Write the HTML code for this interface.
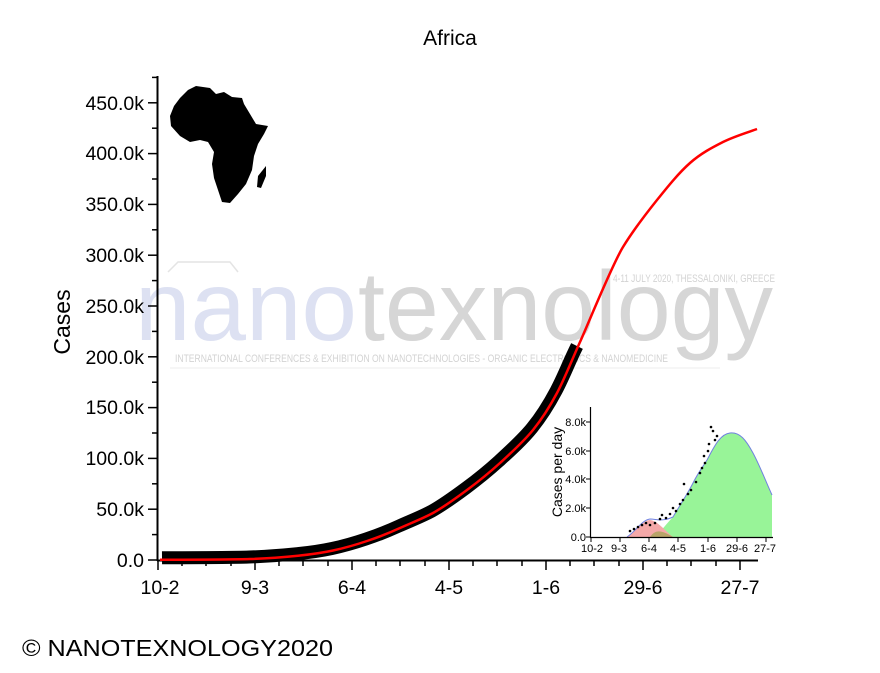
<!DOCTYPE html>
<html><head><meta charset="utf-8"><style>
body{margin:0;background:#fff;}
svg{display:block;font-family:"Liberation Sans",Arial,sans-serif;}
</style></head><body>
<svg width="880" height="673" viewBox="0 0 880 673" xmlns="http://www.w3.org/2000/svg">
<rect width="880" height="673" fill="#fff"/>
<text x="450" y="45" font-size="21" text-anchor="middle" fill="#000">Africa</text>
<text transform="translate(70,322) rotate(-90)" font-size="23" text-anchor="middle" fill="#000">Cases</text>
<text x="22" y="656" font-size="23" fill="#000" textLength="311" lengthAdjust="spacingAndGlyphs">© NANOTEXNOLOGY2020</text>

<g>
<text x="135" y="340" font-size="98" fill="#dde1f2" textLength="222" lengthAdjust="spacingAndGlyphs">nano</text>
<text x="358" y="340" font-size="98" fill="#d6d6d6" textLength="415" lengthAdjust="spacingAndGlyphs">texnology</text>
<text x="175" y="362" font-size="11" fill="#d3d3d3" textLength="493" lengthAdjust="spacingAndGlyphs">INTERNATIONAL CONFERENCES &amp; EXHIBITION ON NANOTECHNOLOGIES - ORGANIC ELECTRONICS &amp; NANOMEDICINE</text>
<text x="613" y="282" font-size="11" fill="#d3d3d3" textLength="162" lengthAdjust="spacingAndGlyphs">4-11 JULY 2020, THESSALONIKI, GREECE</text>
<path d="M168 272 L178 262 L230 262 L238 272" fill="none" stroke="#e4e4e4" stroke-width="1.5"/>
<line x1="170" y1="368" x2="720" y2="368" stroke="#eeeeee" stroke-width="1"/>
</g>

<g stroke="#000" stroke-width="2" fill="none">
<line x1="157.5" y1="76" x2="157.5" y2="561"/>
<line x1="157" y1="560.5" x2="758" y2="560.5"/>
</g>
<g stroke="#000" stroke-width="1.5">
<line x1="148" y1="560" x2="157" y2="560"/><line x1="148" y1="509.2" x2="157" y2="509.2"/>
<line x1="148" y1="458.4" x2="157" y2="458.4"/><line x1="148" y1="407.6" x2="157" y2="407.6"/>
<line x1="148" y1="356.8" x2="157" y2="356.8"/><line x1="148" y1="306" x2="157" y2="306"/>
<line x1="148" y1="255.2" x2="157" y2="255.2"/><line x1="148" y1="204.4" x2="157" y2="204.4"/>
<line x1="148" y1="153.6" x2="157" y2="153.6"/><line x1="148" y1="102.8" x2="157" y2="102.8"/>
<line x1="152" y1="534.6" x2="157" y2="534.6"/><line x1="152" y1="483.8" x2="157" y2="483.8"/>
<line x1="152" y1="433" x2="157" y2="433"/><line x1="152" y1="382.2" x2="157" y2="382.2"/>
<line x1="152" y1="331.4" x2="157" y2="331.4"/><line x1="152" y1="280.6" x2="157" y2="280.6"/>
<line x1="152" y1="229.8" x2="157" y2="229.8"/><line x1="152" y1="179" x2="157" y2="179"/>
<line x1="152" y1="128.2" x2="157" y2="128.2"/><line x1="152" y1="77.4" x2="157" y2="77.4"/>
<line x1="158" y1="561" x2="158" y2="570"/><line x1="255" y1="561" x2="255" y2="570"/>
<line x1="352" y1="561" x2="352" y2="570"/><line x1="449" y1="561" x2="449" y2="570"/>
<line x1="546" y1="561" x2="546" y2="570"/><line x1="643" y1="561" x2="643" y2="570"/>
<line x1="740" y1="561" x2="740" y2="570"/>
<line x1="182" y1="561" x2="182" y2="566"/><line x1="206" y1="561" x2="206" y2="566"/><line x1="231" y1="561" x2="231" y2="566"/>
<line x1="279" y1="561" x2="279" y2="566"/><line x1="303" y1="561" x2="303" y2="566"/><line x1="328" y1="561" x2="328" y2="566"/>
<line x1="376" y1="561" x2="376" y2="566"/><line x1="400" y1="561" x2="400" y2="566"/><line x1="425" y1="561" x2="425" y2="566"/>
<line x1="473" y1="561" x2="473" y2="566"/><line x1="497" y1="561" x2="497" y2="566"/><line x1="522" y1="561" x2="522" y2="566"/>
<line x1="570" y1="561" x2="570" y2="566"/><line x1="594" y1="561" x2="594" y2="566"/><line x1="619" y1="561" x2="619" y2="566"/>
<line x1="667" y1="561" x2="667" y2="566"/><line x1="691" y1="561" x2="691" y2="566"/><line x1="716" y1="561" x2="716" y2="566"/>
</g>
<g font-size="19.5" fill="#000" text-anchor="end">
<text x="144" y="567">0.0</text><text x="144" y="516">50.0k</text><text x="144" y="465">100.0k</text>
<text x="144" y="414">150.0k</text><text x="144" y="364">200.0k</text><text x="144" y="313">250.0k</text>
<text x="144" y="262">300.0k</text><text x="144" y="211">350.0k</text><text x="144" y="160">400.0k</text>
<text x="144" y="110">450.0k</text>
</g>
<g font-size="19.5" fill="#000" text-anchor="middle">
<text x="160" y="594">10-2</text><text x="255" y="594">9-3</text><text x="352" y="594">6-4</text>
<text x="449" y="594">4-5</text><text x="546" y="594">1-6</text><text x="643" y="594">29-6</text>
<text x="740" y="594">27-7</text>
</g>

<path d="M188 90 L196 86 L210 88 L216 94 L224 92 L232 97 L242 98 L244 104 L250 114 L256 124 L268 126 L264 134 L258 144 L254 156 L252 170 L246 184 L238 194 L230 203 L222 202 L218 190 L214 178 L212 164 L214 152 L208 142 L200 140 L190 142 L180 136 L171 126 L170 116 L174 106 L180 98 Z" fill="#000"/>
<path d="M266 166 L266 176 L261 188 L257 187 L258 176 Z" fill="#000"/>

<g transform="translate(-1,-2)">
<path d="M163 559.8 C175 559.7 226.7 559.7 250 559 C273.3 558.3 286.2 556.9 300 555.5 C313.8 554.1 321.8 552.9 333 550.5 C344.2 548.1 355.8 544.8 367 541 C378.2 537.3 389 533 400 528 C411 523 421.8 519 433 513 C444.2 506.7 455.8 498.3 467 490 C478.2 481.7 489 473 500 463 C511 453 523.5 441.7 533 430 C542.5 418.3 549.2 407.7 557 393 C564.8 378.3 569 366.3 578 348" fill="none" stroke="#000" stroke-width="13" stroke-linejoin="round"/>
</g>
<path d="M160 559.8 C175 559.7 226.7 559.7 250 559 C273.3 558.3 286.2 556.9 300 555.5 C313.8 554.1 321.8 552.9 333 550.5 C344.2 548.1 355.8 544.8 367 541 C378.2 537.3 389 533 400 528 C411 523 421.8 519 433 513 C444.2 506.7 455.8 498.3 467 490 C478.2 481.7 489 473 500 463 C511 453 523.5 441.7 533 430 C542.5 418.3 549.2 407.7 557 393 C564.8 378.3 571 362 580 342 C589 322 612 265 623 247 C634 229 645.8 214 657 200 C668.2 186 679 172.7 690 163 C701 153.3 711.8 147.7 723 142 C734.2 136.3 751.3 131.2 757 129" fill="none" stroke="#ff0000" stroke-width="2.5"/>

<g>
<path d="M655 537 C662 530 668 522 673 517 C680 505 688 493 693 483 C698 473 702 468 707 460 C714 447 720 434 730 433 C740 432 746 440 753 453 C760 466 766 482 772 495 L772 537 Z" fill="#98f498"/>
<path d="M627 537 C636 531 642 521 650 520 C658 521 665 531 673 537 Z" fill="#f4a8a8"/>
<path d="M650 537 C655 530 660 529 673 537 Z" fill="#b8a468"/>
<path d="M627 537 C636 531 642 520 650 519 C657 519 662 522 673 517 C680 505 688 493 693 483 C698 473 702 468 707 460 C714 447 720 434 730 433 C740 432 746 440 753 453 C760 466 766 482 772 495" fill="none" stroke="#7080e0" stroke-width="1"/>
<g fill="#000">
<circle cx="630" cy="531" r="1.3"/><circle cx="634" cy="529" r="1.3"/><circle cx="638" cy="527" r="1.3"/>
<circle cx="642" cy="525" r="1.3"/><circle cx="646" cy="523" r="1.3"/><circle cx="650" cy="525" r="1.3"/>
<circle cx="655" cy="523" r="1.3"/><circle cx="660" cy="519" r="1.3"/><circle cx="662" cy="515" r="1.3"/>
<circle cx="666" cy="518" r="1.3"/><circle cx="670" cy="514" r="1.3"/><circle cx="673" cy="508" r="1.3"/>
<circle cx="676" cy="511" r="1.3"/><circle cx="680" cy="504" r="1.3"/><circle cx="683" cy="500" r="1.3"/>
<circle cx="684" cy="484" r="1.3"/><circle cx="688" cy="494" r="1.3"/><circle cx="691" cy="490" r="1.3"/>
<circle cx="696" cy="482" r="1.3"/><circle cx="700" cy="473" r="1.3"/><circle cx="702" cy="468" r="1.3"/>
<circle cx="705" cy="463" r="1.3"/><circle cx="708" cy="451" r="1.3"/><circle cx="709" cy="444" r="1.3"/>
<circle cx="711" cy="427" r="1.3"/><circle cx="713" cy="431" r="1.3"/><circle cx="715" cy="440" r="1.3"/>
<circle cx="717" cy="436" r="1.3"/><circle cx="704" cy="456" r="1.3"/>
</g>
<g stroke="#000" stroke-width="1.2" fill="none">
<line x1="590.5" y1="407" x2="590.5" y2="538"/><line x1="590" y1="537.5" x2="773" y2="537.5"/>
</g>
<g stroke="#000" stroke-width="1">
<line x1="586" y1="422" x2="590" y2="422"/><line x1="586" y1="451" x2="590" y2="451"/>
<line x1="586" y1="479" x2="590" y2="479"/><line x1="586" y1="508" x2="590" y2="508"/>
<line x1="586" y1="537" x2="590" y2="537"/>
<line x1="591" y1="538" x2="591" y2="542"/><line x1="620" y1="538" x2="620" y2="542"/>
<line x1="649" y1="538" x2="649" y2="542"/><line x1="678" y1="538" x2="678" y2="542"/>
<line x1="708" y1="538" x2="708" y2="542"/><line x1="737" y1="538" x2="737" y2="542"/>
<line x1="766" y1="538" x2="766" y2="542"/>
</g>
<g font-size="11" fill="#000" text-anchor="end">
<text x="586" y="426">8.0k</text><text x="586" y="455">6.0k</text><text x="586" y="483">4.0k</text>
<text x="586" y="512">2.0k</text><text x="586" y="541">0.0</text>
</g>
<g font-size="11" fill="#000" text-anchor="middle">
<text x="592" y="552">10-2</text><text x="619" y="552">9-3</text><text x="649" y="552">6-4</text>
<text x="678" y="552">4-5</text><text x="708" y="552">1-6</text><text x="737" y="552">29-6</text>
<text x="765" y="552">27-7</text>
</g>
<text transform="translate(562,472) rotate(-90)" font-size="14" text-anchor="middle" fill="#000">Cases per day</text>
</g>
</svg>
</body></html>
